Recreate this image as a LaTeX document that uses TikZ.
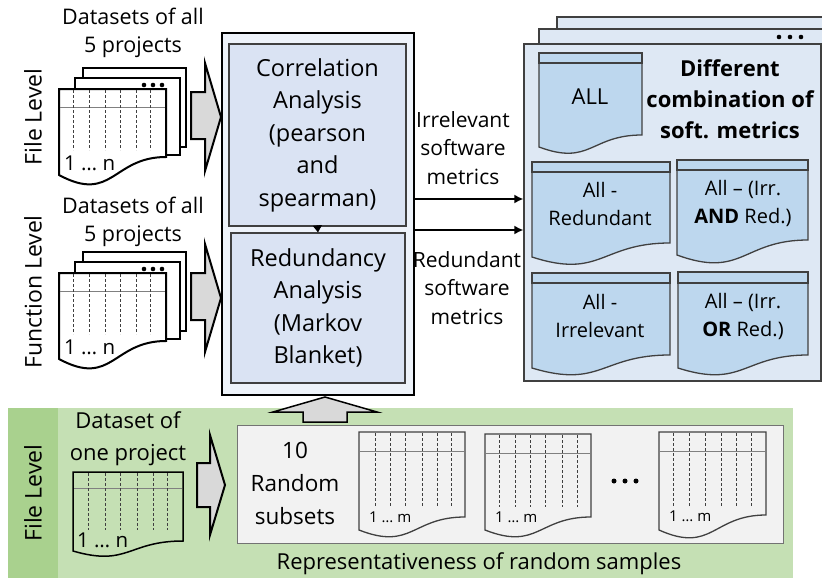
\documentclass[tikz,border=0pt]{standalone}
\usepackage{fontspec}
\setmainfont{Open Sans}
\usetikzlibrary{arrows.meta}
\definecolor{procfill}{HTML}{EEF3FA}
\definecolor{boxfill}{HTML}{DAE3F3}
\definecolor{panelfill}{HTML}{DEE8F4}
\definecolor{docfill}{HTML}{BDD7EE}
\definecolor{greenA}{HTML}{C5E0B4}
\definecolor{greenB}{HTML}{A9D18E}
\definecolor{grayfill}{HTML}{F2F2F2}
\definecolor{arrowfill}{HTML}{D9D9D9}
\definecolor{darkline}{HTML}{404040}
\newcommand{\docshape}[6][]{\draw[#1] (#2,#3) -- (#4,#3) -- (#4,#6) .. controls ({0.5*(#2+#4)},#6) and ({0.5*(#2+#4)},{#5+1.6*(#5-#6)}) .. (#2,#5) -- cycle;}
\tikzset{
  txt/.style={inner sep=0pt, align=center},
  titlefont/.style={font=\fontsize{21.5}{28.5}\selectfont},
  boxfont/.style={font=\fontsize{23.5}{32.5}\selectfont},
  lblfont/.style={font=\fontsize{21}{28.5}\selectfont},
  docfont/.style={font=\fontsize{20}{28}\selectfont},
  levelfont/.style={font=\fontsize{23}{28}\selectfont},
  whitedoc/.style={draw=black, line width=2pt, fill=white},
  greendoc/.style={draw=black, line width=1.5pt},
  bluedoc/.style={draw=darkline, line width=1.3pt, fill=docfill},
  graydoc/.style={draw=darkline, line width=1.3pt},
  hdr/.style={draw=gray, line width=1pt},
  dl/.style={draw=black!75, line width=0.6pt, dash pattern=on 2.5pt off 2.5pt},
  fatarrow/.style={draw=black, line width=2pt, fill=arrowfill, line join=miter},
  conn/.style={line width=2pt, -{Latex[length=9pt,width=9pt]}},
}
\begin{document}
\begin{tikzpicture}[x=1pt,y=-1pt]
\useasboundingbox (0,0) rectangle (822,578);

% ---------- File level (top-left) ----------
\node[levelfont, rotate=90] (fl1) at (33,117) {File Level};
\node[txt, titlefont] (t1) at (133,33) {Datasets of all\\5 projects};
\draw[whitedoc] (83,68) rectangle (186,147);
\draw[whitedoc] (75,78) rectangle (180,155);
\foreach \cx in {144,153,162} \fill (\cx,85) circle (2.3);
\docshape[whitedoc]{59}{89}{166}{175}{157}
\draw[hdr] (60,107) -- (165,107);
\foreach \cx in {73,89,105,120,136,150} \draw[dl] (\cx,90) -- (\cx,150);
\node[anchor=west, font=\fontsize{20.5}{24}\selectfont, inner sep=0pt] (n1) at (64,163) {1 … n};
\draw[fatarrow] (191,92) -- (205,92) -- (205,63) -- (221,117) -- (205,171) -- (205,139) -- (191,139) -- cycle;

% ---------- Function level ----------
\node[levelfont, rotate=90] (fl2) at (33,292) {Function Level};
\node[txt, titlefont] (t2) at (133,222) {Datasets of all\\5 projects};
\begin{scope}[shift={(0,184)}]
\draw[whitedoc] (83,68) rectangle (186,147);
\draw[whitedoc] (75,78) rectangle (180,155);
\foreach \cx in {144,153,162} \fill (\cx,85) circle (2.3);
\docshape[whitedoc]{59}{89}{166}{175}{157}
\draw[hdr] (60,107) -- (165,107);
\foreach \cx in {73,89,105,120,136,150} \draw[dl] (\cx,90) -- (\cx,150);
\node[anchor=west, font=\fontsize{20.5}{24}\selectfont, inner sep=0pt] (n2) at (64,163) {1 … n};
\end{scope}
\begin{scope}[shift={(0,181)}]
\draw[fatarrow] (191,92) -- (205,92) -- (205,63) -- (221,117) -- (205,171) -- (205,139) -- (191,139) -- cycle;
\end{scope}

% ---------- Central process box ----------
\node[draw=black, line width=2.5pt, fill=procfill, minimum width=192pt, minimum height=362pt, inner sep=0pt] (proc) at (318,214) {};
\node[draw=darkline, line width=1.2pt, fill=boxfill, minimum width=177pt, minimum height=182pt, txt, boxfont] (corr) at (317.5,135) {Correlation\\Analysis\\(pearson\\and\\spearman)};
\node[draw=darkline, line width=1.2pt, fill=boxfill, minimum width=174pt, minimum height=150pt, txt, boxfont] (red) at (318,308) {Redundancy\\Analysis\\(Markov\\Blanket)};
\draw[line width=0.8pt, -{Triangle[length=7pt,width=9pt]}] (corr.south) -- (red.north);

% ---------- Right panel ----------
\draw[draw=darkline, line width=1.2pt, fill=panelfill] (557,17) rectangle (830,360);
\draw[draw=darkline, line width=1.2pt, fill=panelfill] (539,29) rectangle (830,372);
\foreach \cx in {779,790,801} \fill (\cx,37) circle (2.3);
\node[draw=darkline, line width=1.2pt, fill=panelfill, minimum width=297pt, minimum height=337pt, inner sep=0pt] (combo) at (672.5,212.5) {};
\node[txt, font=\bfseries\fontsize{22}{31}\selectfont] (diff) at (730,99) {Different\\combination of\\soft. metrics};

\docshape[bluedoc]{539}{53}{642}{147}{135}
\draw[bluedoc] (539,53) rectangle (642,63);
\node[txt, font=\fontsize{22}{28}\selectfont] (all) at (590,97) {ALL};

\docshape[bluedoc]{532}{162}{670}{257}{243}
\draw[bluedoc] (532,162) rectangle (670,172);
\node[txt, docfont] (ar) at (600,204) {All -\\Redundant};

\docshape[bluedoc]{677}{160}{808}{255}{240}
\draw[bluedoc] (677,160) rectangle (808,170);
\node[txt, docfont] (aand) at (743,203) {All – (Irr.\\\textbf{AND} Red.)};

\docshape[bluedoc]{532}{273}{670}{368}{355}
\draw[bluedoc] (532,273) rectangle (670,283);
\node[txt, docfont] (ai) at (600,316) {All -\\Irrelevant};

\docshape[bluedoc]{678}{272}{808}{368}{355}
\draw[bluedoc] (678,272) rectangle (808,283);
\node[txt, docfont] (aor) at (743,316) {All – (Irr.\\\textbf{OR} Red.)};

% connectors
\draw[conn] (proc.east |- 0,199) -- (combo.west |- 0,199);
\draw[conn] (proc.east |- 0,230) -- (combo.west |- 0,230);
\node[txt, lblfont] (irr) at (463,148) {Irrelevant\\software\\metrics};
\node[txt, lblfont] (redl) at (467,288) {Redundant\\software\\metrics};

% ---------- Bottom panel ----------
\fill[greenA] (8,408) rectangle (793,580);
\fill[greenB] (8,408) rectangle (58,580);
\node[levelfont, rotate=90] (fl3) at (33,493) {File Level};
\node[txt, font=\fontsize{22}{32}\selectfont] (t3) at (128,439) {Dataset of\\one project};
\docshape[greendoc]{73}{472}{183}{551}{541}
\draw[hdr] (74,488) -- (182,488);
\foreach \cx in {88,105,120,137,153,167} \draw[dl] (\cx,473) -- (\cx,530);
\node[anchor=west, font=\fontsize{20.5}{24}\selectfont, inner sep=0pt] (n3) at (77,540) {1 … n};
\draw[fatarrow] (197,463) -- (210,463) -- (210,435) -- (225,485) -- (210,535) -- (210,507) -- (197,507) -- cycle;

\node[draw=black!55, line width=1pt, fill=grayfill, minimum width=546pt, minimum height=118pt, inner sep=0pt] (subs) at (510,484) {};
\node[txt, font=\fontsize{22.5}{33}\selectfont] (rnd) at (295,483) {10\\Random\\subsets};

\docshape[graydoc]{359}{432}{465}{530}{517}
\draw[hdr] (360,451) -- (464,451);
\foreach \dx in {16,31,46,63,78,92} \draw[dl] (359+\dx,433) -- (359+\dx,507);
\node[anchor=west, font=\fontsize{15}{18}\selectfont, inner sep=0pt] (m1) at (369,517) {1 … m};

\docshape[graydoc]{485}{434}{591}{530}{517}
\draw[hdr] (486,453) -- (590,453);
\foreach \dx in {14,30,45,60,77,92} \draw[dl] (485+\dx,435) -- (485+\dx,507);
\node[anchor=west, font=\fontsize{15}{18}\selectfont, inner sep=0pt] (m2) at (495,517) {1 … m};

\foreach \cx in {614,625,636} \fill (\cx,481) circle (2.5);

\docshape[graydoc]{659}{432}{766}{530}{515}
\draw[hdr] (660,451) -- (765,451);
\foreach \dx in {14,30,46,62,77,92} \draw[dl] (659+\dx,433) -- (659+\dx,507);
\node[anchor=west, font=\fontsize{15}{18}\selectfont, inner sep=0pt] (m3) at (669,516) {1 … m};

\node[txt, font=\fontsize{22}{28}\selectfont] (rep) at (479,564) {Representativeness of random samples};

% up arrow into process box
\draw[line width=1.5pt, fill=arrowfill] (303,422) -- (303,412) -- (273,412) -- (325,397) -- (377,412) -- (347,412) -- (347,422) -- cycle;
\end{tikzpicture}
\end{document}
